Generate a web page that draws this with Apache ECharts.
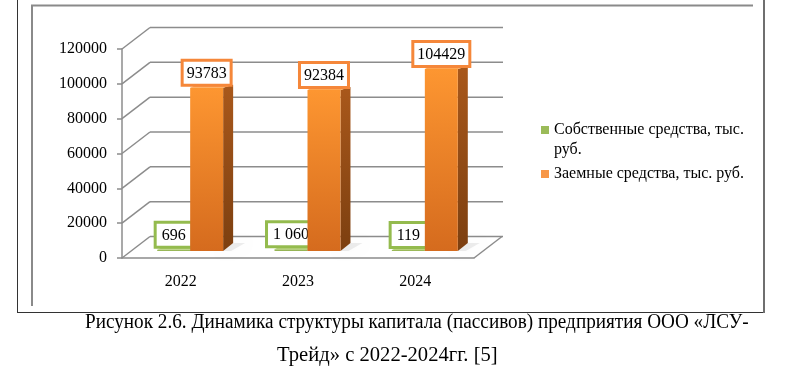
<!DOCTYPE html>
<html><head><meta charset="utf-8">
<script src="https://cdn.jsdelivr.net/npm/echarts@6/dist/echarts.min.js"></script>
<style>html,body{margin:0;padding:0;background:#fff}#c{width:800px;height:374px}</style>
</head><body><div id="c"></div>
<script>
// ---- data ----
const categories = ['2022', '2023', '2024'];
const seriesNames = ['Собственные средства, тыс. руб.', 'Заемные средства, тыс. руб.'];
const ownFunds = [696, 1060, 119];
const borrowedFunds = [93783, 92384, 104429];
const yTicks = [0, 20000, 40000, 60000, 80000, 100000, 120000];
const captionLines = [
  'Рисунок 2.6. Динамика структуры капитала (пассивов) предприятия ООО «ЛСУ-',
  'Трейд» с 2022-2024гг. [5]'
];

// ---- style ----
const FONT = '"Liberation Serif", "Times New Roman", serif';
const GRID_COLOR = '#8c8c8c';
const DEPTH = [28, -21.5];      // back wall offset
const BAR_SHIFT = [9.5, -7];    // bars sit a third deep
const BAR_FRAC = 0.281;         // bar width as share of band

function groupThousands(v) {
  return String(v).replace(/\B(?=(\d{3})+(?!\d))/g, ' ');
}

function renderWall(params, api) {
  const cs = params.coordSys;
  const v = api.value(1);
  const y = api.coord([0, v])[1];
  const x0 = cs.x, x1 = cs.x + cs.width;
  const st = { stroke: GRID_COLOR, lineWidth: 1.5 };
  const children = [
    { type: 'line', shape: { x1: x0, y1: y, x2: x0 + DEPTH[0], y2: y + DEPTH[1] }, style: st },
    { type: 'line', shape: { x1: x0 + DEPTH[0], y1: y + DEPTH[1], x2: x1 + DEPTH[0] + 1, y2: y + DEPTH[1] }, style: st }
  ];
  if (v === 0) {
    children.push({ type: 'line', shape: { x1: x1, y1: y, x2: x1 + DEPTH[0], y2: y + DEPTH[1] }, style: st });
  }
  return { type: 'group', children };
}

function makeBarRender(side, pal, fmt) {
  return function (params, api) {
    const idx = api.value(0), v = api.value(1);
    const base = api.coord([idx, 0]);
    const top = api.coord([idx, v]);
    const band = api.size([1, 0])[0];
    const w = band * BAR_FRAC;
    const xl = base[0] + (side < 0 ? -w : 0) + BAR_SHIFT[0];
    const xr = xl + w;
    const yb = base[1] + BAR_SHIFT[1];
    const yt = Math.min(top[1] + BAR_SHIFT[1], yb - 1);
    const sd = 10;
    const children = [];
    if (side > 0) {
      children.push({
        type: 'polygon',
        shape: { points: [[xr - 2, yb], [xr + sd, yb - 8], [xr + sd + 12, yb - 8], [xr + 8, yb]] },
        style: { fill: 'rgba(0,0,0,0.07)', shadowBlur: 8, shadowColor: 'rgba(0,0,0,0.2)' }
      });
    }
    children.push({
      type: 'polygon',
      shape: { points: [[xr, yt], [xr + sd, yt - 3], [xr + sd, yb - 8], [xr, yb]] },
      style: { fill: new echarts.graphic.LinearGradient(0, 0, 0, 1, [
        { offset: 0, color: pal.side[0] }, { offset: 1, color: pal.side[1] }]) }
    });
    children.push({
      type: 'polygon',
      shape: { points: [[xl, yt], [xl + 6, yt - 3], [xr + sd, yt - 3], [xr, yt]] },
      style: { fill: pal.top }
    });
    children.push({
      type: 'rect',
      shape: { x: xl, y: yt, width: w, height: yb - yt },
      style: { fill: new echarts.graphic.LinearGradient(0, 0, 0, 1, [
        { offset: 0, color: pal.front[0] }, { offset: 1, color: pal.front[1] }]) }
    });
    children.push({
      type: 'text',
      x: (xl + xr) / 2,
      y: yt - 4,
      style: {
        text: fmt(v), font: '16px ' + FONT, fill: '#000',
        align: 'center', verticalAlign: 'bottom',
        backgroundColor: '#fff', borderColor: pal.label, borderWidth: 3,
        padding: pal.pad
      }
    });
    return { type: 'group', children };
  };
}

const greenPal = { front: ['#a6c563', '#8fae4f'], side: ['#7d9a3f', '#6a8535'], top: '#b9d27f', label: '#94bb4e', pad: [4, 5, 2, 5] };
const orangePal = { front: ['#fd9631', '#d56b1e'], side: ['#a9581b', '#7c3f10'], top: '#ffa651', label: '#f5873a', pad: [4, 3, 2, 3] };

const chart = echarts.init(document.getElementById('c'), null, { renderer: 'canvas' });
chart.setOption({
  animation: false,
  backgroundColor: '#fff',
  grid: { left: 122, top: 49, width: 352, height: 209 },
  xAxis: {
    type: 'category', data: categories, boundaryGap: true,
    axisLine: { lineStyle: { color: GRID_COLOR, width: 1.5 } },
    axisTick: { length: 5, lineStyle: { color: GRID_COLOR, width: 1.5 } },
    axisLabel: { color: '#000', fontFamily: FONT, fontSize: 16, margin: 16 },
    splitLine: { show: false }
  },
  yAxis: {
    type: 'value', min: 0, max: 120000, interval: 20000,
    axisLine: { show: true, lineStyle: { color: GRID_COLOR, width: 1.5 } },
    axisTick: { show: true, length: 5, lineStyle: { color: GRID_COLOR, width: 1.5 } },
    axisLabel: { color: '#000', fontFamily: FONT, fontSize: 16, margin: 15, formatter: v => String(v) },
    splitLine: { show: false }
  },
  legend: {
    orient: 'vertical', left: 536, top: 95, itemWidth: 8, itemHeight: 8, itemGap: 4,
    icon: 'rect', data: seriesNames,
    textStyle: { fontFamily: FONT, fontSize: 16, color: '#000', lineHeight: 20 },
    formatter: name => name === seriesNames[0] ? '\n' + name.replace(' руб.', '\nруб.') : name
  },
  graphic: [
    { type: 'line', shape: { x1: 17.5, y1: 0, x2: 17.5, y2: 312.5 }, style: { stroke: '#333', lineWidth: 1 } },
    { type: 'line', shape: { x1: 17, y1: 312.5, x2: 765, y2: 312.5 }, style: { stroke: '#333', lineWidth: 1 } },
    { type: 'line', shape: { x1: 764, y1: 0, x2: 764, y2: 313 }, style: { stroke: '#6f6f6f', lineWidth: 2 } },
    { type: 'line', shape: { x1: 31, y1: 5.5, x2: 753, y2: 5.5 }, style: { stroke: '#8a8a8a', lineWidth: 2 } },
    { type: 'line', shape: { x1: 32, y1: 5, x2: 32, y2: 306 }, style: { stroke: '#8a8a8a', lineWidth: 2 } },
    { type: 'text', x: 85, y: 323, scaleX: 0.96, style: { text: captionLines[0], font: '20px ' + FONT, fill: '#000', verticalAlign: 'middle' } },
    { type: 'text', x: 277, y: 356, scaleX: 1.03, style: { text: captionLines[1], font: '20px ' + FONT, fill: '#000', verticalAlign: 'middle' } }
  ],
  series: [
    {
      type: 'custom', name: 'walls', silent: true, z: 1,
      data: yTicks.map(v => [0, v]), encode: { x: 0, y: 1 },
      renderItem: renderWall
    },
    {
      type: 'custom', name: seriesNames[0], z: 3,
      itemStyle: { color: '#9bbb59' },
      data: ownFunds.map((v, i) => [i, v]), encode: { x: 0, y: 1 },
      renderItem: makeBarRender(-1, greenPal, groupThousands)
    },
    {
      type: 'custom', name: seriesNames[1], z: 3,
      itemStyle: { color: '#f79646' },
      data: borrowedFunds.map((v, i) => [i, v]), encode: { x: 0, y: 1 },
      renderItem: makeBarRender(1, orangePal, v => String(v))
    }
  ]
});
</script></body></html>
